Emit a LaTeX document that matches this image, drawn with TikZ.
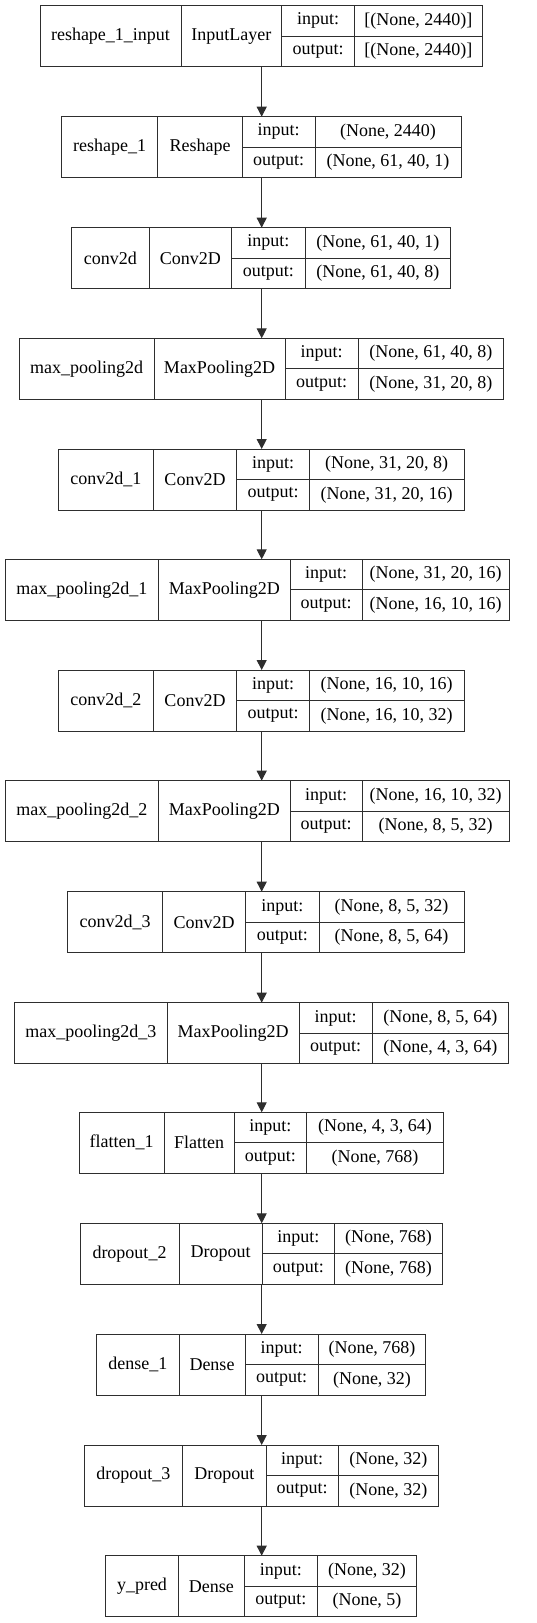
\documentclass[tikz,border=0pt]{standalone}
\usepackage{fontspec}
\setmainfont{Liberation Serif}
\usetikzlibrary{arrows.meta}
\colorlet{linec}{black!82}
\tikzset{
  cell/.style={draw=linec, line width=1pt, anchor=north west, inner sep=0pt, outer sep=0pt, text=black},
  frame/.style={anchor=north west, inner sep=0pt, outer sep=0pt},
  arr/.style={draw=linec, line width=1pt, -{Triangle[length=10pt,width=10pt]}}
}
\newcommand\Gm[6]{\def\gT{#1}\def\gA{#2}\def\gB{#3}\def\gC{#4}\def\gD{#5}\def\gE{#6}}
\newcommand\Lyr[5]{%
  \pgfmathsetmacro\wN{\gB-\gA}%
  \pgfmathsetmacro\wT{\gC-\gB}%
  \pgfmathsetmacro\wL{\gD-\gC}%
  \pgfmathsetmacro\wV{\gE-\gD}%
  \pgfmathsetmacro\wA{\gE-\gA}%
  \node[frame, minimum width=\wA pt, minimum height=61pt] (b#1) at (\gA,\gT) {};
  \coordinate (c#1) at (261.7,\gT);
  \node[cell, minimum width=\wN pt, minimum height=61pt] (n#1) at (\gA,\gT) {#2};
  \node[cell, minimum width=\wT pt, minimum height=61pt] (t#1) at (\gB,\gT) {#3};
  \node[cell, minimum width=\wL pt, minimum height=30.5pt] (il#1) at (\gC,\gT) {input:};
  \node[cell, minimum width=\wL pt, minimum height=30.5pt] (ol#1) at (il#1.south west) {output:};
  \node[cell, minimum width=\wV pt, minimum height=30.5pt] (iv#1) at (\gD,\gT) {#4};
  \node[cell, minimum width=\wV pt, minimum height=30.5pt] (ov#1) at (iv#1.south west) {#5};
}
\begin{document}
\begin{tikzpicture}[x=1pt, y=-1pt, font=\fontsize{18}{20}\selectfont]
\useasboundingbox (0,0) rectangle (536,1623);
\Gm{5.7}{40}{181}{281.7}{354.3}{482.3}
\Lyr{1}{reshape\_1\_input}{InputLayer}{[(None, 2440)]}{[(None, 2440)]}
\Gm{116.7}{61.7}{157.7}{242.3}{315}{461}
\Lyr{2}{reshape\_1}{Reshape}{(None, 2440)}{(None, 61, 40, 1)}
\Gm{227.7}{71.7}{149}{231.7}{305}{450.7}
\Lyr{3}{conv2d}{Conv2D}{(None, 61, 40, 1)}{(None, 61, 40, 8)}
\Gm{338.3}{19}{154}{285}{358.3}{503.3}
\Lyr{4}{max\_pooling2d}{MaxPooling2D}{(None, 61, 40, 8)}{(None, 31, 20, 8)}
\Gm{449}{58.3}{153.3}{236.7}{309.3}{464}
\Lyr{5}{conv2d\_1}{Conv2D}{(None, 31, 20, 8)}{(None, 31, 20, 16)}
\Gm{559.3}{5}{158.7}{290}{362.3}{509}
\Lyr{6}{max\_pooling2d\_1}{MaxPooling2D}{(None, 31, 20, 16)}{(None, 16, 10, 16)}
\Gm{670}{58.3}{153.3}{236.7}{309.3}{464}
\Lyr{7}{conv2d\_2}{Conv2D}{(None, 16, 10, 16)}{(None, 16, 10, 32)}
\Gm{780.7}{5}{158.7}{290}{362.3}{509}
\Lyr{8}{max\_pooling2d\_2}{MaxPooling2D}{(None, 16, 10, 32)}{(None, 8, 5, 32)}
\Gm{891.7}{67.7}{162.7}{245.7}{319}{464}
\Lyr{9}{conv2d\_3}{Conv2D}{(None, 8, 5, 32)}{(None, 8, 5, 64)}
\Gm{1002.7}{14.3}{167.3}{299}{372.3}{508.3}
\Lyr{10}{max\_pooling2d\_3}{MaxPooling2D}{(None, 8, 5, 64)}{(None, 4, 3, 64)}
\Gm{1112.3}{79}{164}{234}{306.7}{443.3}
\Lyr{11}{flatten\_1}{Flatten}{(None, 4, 3, 64)}{(None, 768)}
\Gm{1223.3}{80}{179}{262.3}{334.3}{442.7}
\Lyr{12}{dropout\_2}{Dropout}{(None, 768)}{(None, 768)}
\Gm{1334}{96.7}{179}{245}{318.3}{425.7}
\Lyr{13}{dense\_1}{Dense}{(None, 768)}{(None, 32)}
\Gm{1445}{84}{182.7}{266}{338.3}{438.3}
\Lyr{14}{dropout\_3}{Dropout}{(None, 32)}{(None, 32)}
\Gm{1555.7}{105.7}{178.3}{244.3}{317.3}{416.7}
\Lyr{15}{y\_pred}{Dense}{(None, 32)}{(None, 5)}
\foreach \i [evaluate=\i as \j using int(\i+1)] in {1,...,14}
  \draw[arr] (b\i.south -| c\i) -- (b\j.north -| c\i);
\end{tikzpicture}
\end{document}
